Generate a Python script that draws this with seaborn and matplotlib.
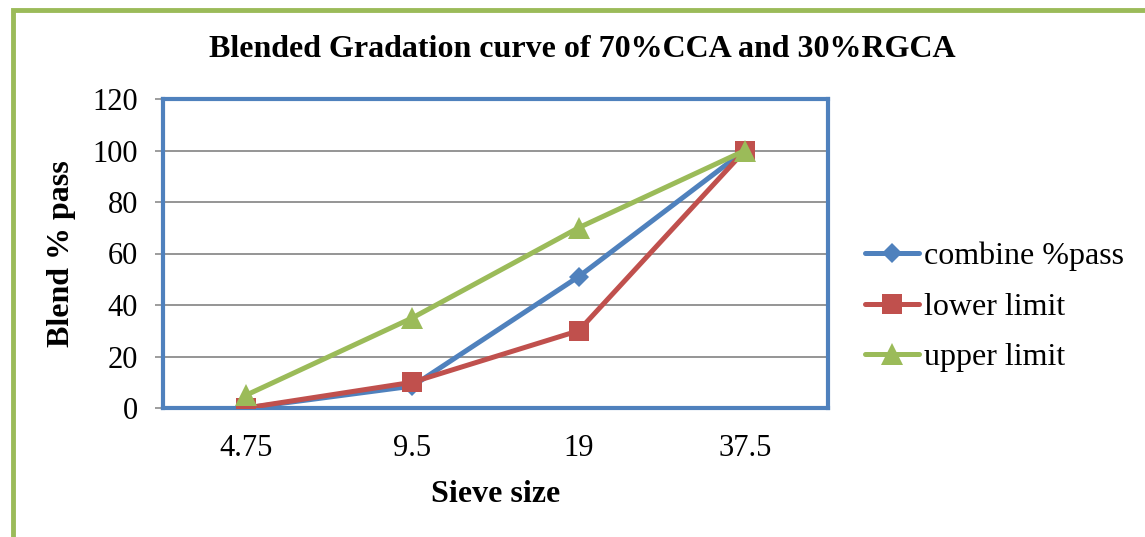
import seaborn as sns
import pandas as pd
import matplotlib.pyplot as plt
from matplotlib.patches import Rectangle
from matplotlib.ticker import FixedLocator

# data
sieve_sizes = ["4.75", "9.5", "19", "37.5"]
combine_pass = [0, 8.5, 51, 100]
lower_limit = [0, 10, 30, 100]
upper_limit = [5, 35, 70, 100]
series_names = ["combine %pass", "lower limit", "upper limit"]

df = pd.DataFrame({
    "sieve": sieve_sizes * 3,
    "value": combine_pass + lower_limit + upper_limit,
    "series": [s for s in series_names for _ in sieve_sizes],
})

colors = {"combine %pass": "#4F81BD", "lower limit": "#C0504D", "upper limit": "#9BBB59"}
markers = {"combine %pass": "D", "lower limit": "s", "upper limit": "^"}
msizes = {"combine %pass": 10.5, "lower limit": 14.5, "upper limit": 15.5}

sns.set_theme(style="white")
plt.rcParams["font.family"] = ["Liberation Serif", "DejaVu Serif"]
plt.rcParams["text.color"] = "black"
plt.rcParams["xtick.color"] = "black"
plt.rcParams["ytick.color"] = "black"
plt.rcParams["axes.labelcolor"] = "black"

fig = plt.figure(figsize=(11.45, 5.37), dpi=100)
ax = fig.add_axes([163 / 1145, 1 - 408 / 537, (828 - 163) / 1145, (408 - 99) / 537])

for name in series_names:
    sub = df[df["series"] == name]
    sns.lineplot(data=sub, x="sieve", y="value", color=colors[name], marker=markers[name],
                 markersize=msizes[name], markeredgewidth=0, linewidth=3.6, label=name,
                 ax=ax, sort=False, zorder=3)

# axes styling
ax.set_xlim(-0.5, 3.5)
ax.set_ylim(0, 120)
ax.set_yticks(range(0, 121, 20))
ax.yaxis.grid(True, color="#8C8C8C", linewidth=1.3)
ax.xaxis.grid(False)
ax.set_xticks(range(4))
ax.set_xticklabels(sieve_sizes)
ax.xaxis.set_minor_locator(FixedLocator([-0.5, 0.5, 1.5, 2.5, 3.5]))
ax.tick_params(axis="x", which="major", length=0, labelsize=22, pad=19, labelcolor="black")
ax.tick_params(axis="x", which="minor", length=6, width=1.2, color="#8C8C8C", direction="out")
ax.tick_params(axis="y", length=6, width=1.2, color="#8C8C8C", direction="out", labelsize=22, pad=12,
               left=True, labelcolor="black")
for s in ax.spines.values():
    s.set_color("#4F81BD")
    s.set_linewidth(3)
ax.set_xlabel("Sieve size", fontsize=23, fontweight="bold", labelpad=12, color="black")
ax.set_ylabel("Blend % pass", fontsize=23, fontweight="bold", labelpad=12, color="black")
ax.set_title("Blended Gradation curve of 70%CCA and 30%RGCA", fontsize=23, fontweight="bold", pad=30,
             color="black", x=(582 - 163) / (828 - 163))

leg = ax.legend(loc="center left", bbox_to_anchor=(865 / 1145, 1 - 307 / 537), bbox_transform=fig.transFigure,
                frameon=False, fontsize=23, handlelength=1.7, handletextpad=0.15, labelspacing=0.66,
                borderaxespad=0, borderpad=0)
for t in leg.get_texts():
    t.set_color("black")

# outer green border
fig.patches.append(Rectangle((13 / 1145, -0.05), 1.1, 1 - 10 / 537 + 0.05, transform=fig.transFigure,
                             fill=False, edgecolor="#9BBB59", linewidth=3.5))

fig.savefig("out.png", dpi=100)
